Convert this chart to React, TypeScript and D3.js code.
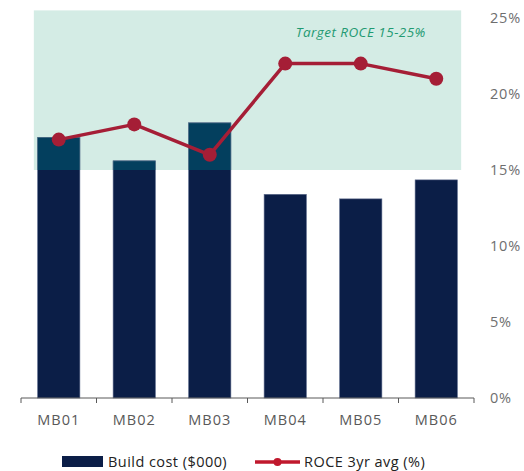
import React from "react";
import * as d3 from "d3";

const categories = ["MB01", "MB02", "MB03", "MB04", "MB05", "MB06"];
const buildCost = [343, 312, 362, 268, 262, 287];
const roce = [17, 18, 16, 22, 22, 21];
const rightTicks = [0, 5, 10, 15, 20, 25];
const targetLow = 15;
const targetHigh = 25.5;
const targetLabel = "Target ROCE 15-25%";
const legendBar = "Build cost ($000)";
const legendLine = "ROCE 3yr avg (%)";

const W = 524;
const H = 471;
const left = 21;
const right = 474;
const top = 18;
const bottom = 398;

const FONT = "'Open Sans', sans-serif";
const NAVY = "#0b1e47";
const OVER = "#033f5e";
const BAND = "#d4ece5";
const RED = "#a51e36";
const GREY = "#595959";

export default function App() {
  const x = d3
    .scaleBand<string>()
    .domain(categories)
    .range([left, right])
    .paddingInner(0.44)
    .paddingOuter(0.22);
  const yL = d3.scaleLinear().domain([0, 500]).range([bottom, top]);
  const yR = d3.scaleLinear().domain([0, 25]).range([bottom, top]);
  const step = x.step();
  const bw = x.bandwidth();
  const bandX0 = (x(categories[0]) as number) - step * 0.05;
  const bandX1 = (x(categories[categories.length - 1]) as number) + bw + step * 0.05;
  const line = d3
    .line<number>()
    .x((_, i) => (x(categories[i]) as number) + bw / 2)
    .y((d) => yR(d));
  const boundaries = d3.range(categories.length + 1).map((i) => left + i * step);

  return (
    <svg
      width={W}
      height={H}
      style={{ position: "absolute", left: 0, top: 0, fontFamily: FONT }}
    >
      <defs>
        <clipPath id="bandClip">
          <rect x={bandX0} y={yR(targetHigh)} width={bandX1 - bandX0} height={yR(targetLow) - yR(targetHigh)} />
        </clipPath>
      </defs>
      <rect
        x={bandX0}
        y={yR(targetHigh)}
        width={bandX1 - bandX0}
        height={yR(targetLow) - yR(targetHigh)}
        fill={BAND}
      />
      {buildCost.map((v, i) => (
        <rect
          key={"b" + i}
          x={x(categories[i])}
          y={yL(v)}
          width={bw}
          height={bottom - yL(v)}
          fill={NAVY}
          stroke="#5d6b8c"
          strokeWidth={0.6}
        />
      ))}
      <g clipPath="url(#bandClip)">
        {buildCost.map((v, i) => (
          <rect
            key={"o" + i}
            x={x(categories[i])}
            y={yL(v)}
            width={bw}
            height={bottom - yL(v)}
            fill={OVER}
            stroke="#5d7c92"
            strokeWidth={0.6}
          />
        ))}
      </g>
      <text
        x={(x("MB05") as number) + bw / 2}
        y={yR(targetHigh) + 27}
        textAnchor="middle"
        fontSize={13.5}
        letterSpacing={0.45}
        fontStyle="italic"
        fill="#1f9a72"
      >
        {targetLabel}
      </text>
      <path d={line(roce) || ""} fill="none" stroke={RED} strokeWidth={3.5} strokeLinejoin="round" />
      {roce.map((v, i) => (
        <circle key={"c" + i} cx={(x(categories[i]) as number) + bw / 2} cy={yR(v)} r={7} fill={RED} />
      ))}
      <line x1={left} x2={right} y1={bottom} y2={bottom} stroke={GREY} strokeWidth={1} />
      {boundaries.map((bx, i) => (
        <line key={"t" + i} x1={bx} x2={bx} y1={bottom} y2={bottom + 5} stroke={GREY} strokeWidth={1} />
      ))}
      {categories.map((c) => (
        <text
          key={c}
          x={(x(c) as number) + bw / 2}
          y={bottom + 27}
          textAnchor="middle"
          fontSize={14.5}
          letterSpacing={1}
          fill={GREY}
        >
          {c}
        </text>
      ))}
      {rightTicks.map((t) => (
        <text key={"r" + t} x={490} y={yR(t) + 5} fontSize={14.5} letterSpacing={0.8} fill="#6e6e6e">
          {t + "%"}
        </text>
      ))}
      <rect x={62} y={456} width={41} height={11} fill={NAVY} />
      <text x={108} y={467} fontSize={14.5} letterSpacing={0.45} fill="#222">
        {legendBar}
      </text>
      <line x1={255} x2={300} y1={462} y2={462} stroke="#c0182d" strokeWidth={3.5} />
      <circle cx={277.5} cy={462} r={4} fill="#c0182d" />
      <text x={304} y={467} fontSize={14.5} letterSpacing={0.45} fill="#222">
        {legendLine}
      </text>
    </svg>
  );
}
